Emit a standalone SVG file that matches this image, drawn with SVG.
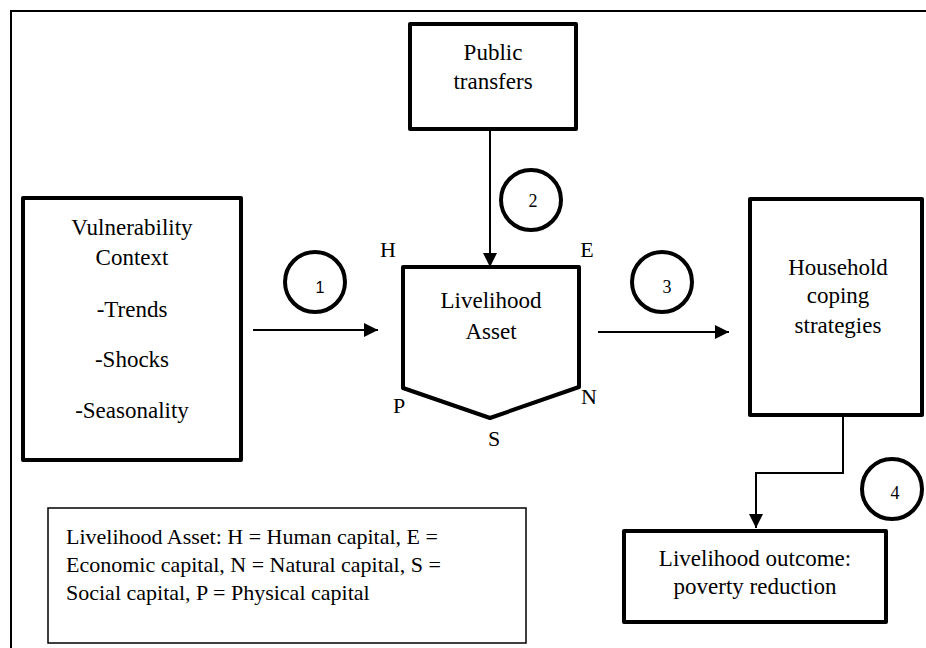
<svg xmlns="http://www.w3.org/2000/svg" width="926" height="648" viewBox="0 0 926 648">
<defs>
<marker id="ah" viewBox="0 0 14 14" refX="14" refY="7" markerWidth="14" markerHeight="14" markerUnits="userSpaceOnUse" orient="auto">
<path d="M0,0 L14,7 L0,14 Z" fill="#000"/>
</marker>
</defs>
<style>
.box{fill:#fff;stroke:#000;stroke-width:4;stroke-linejoin:round}
.t{font-family:'Liberation Serif','Times New Roman',Tinos,'DejaVu Serif',serif;font-size:23px;fill:#000;text-anchor:middle}
.lbl{font-family:'Liberation Serif','Times New Roman',Tinos,'DejaVu Serif',serif;font-size:22px;fill:#000;text-anchor:middle}
.num{font-family:'Liberation Serif','Times New Roman',Tinos,'DejaVu Serif',serif;font-size:18px;fill:#000;text-anchor:middle}
.leg{font-family:'Liberation Serif','Times New Roman',Tinos,'DejaVu Serif',serif;font-size:22px;fill:#000}
.circ{fill:#fff;stroke:#000;stroke-width:4}
.con{fill:none;stroke:#000;stroke-width:2}
</style>
<rect x="0" y="0" width="926" height="648" fill="#fff"/>
<rect x="11" y="11" width="930" height="650" fill="none" stroke="#000" stroke-width="2"/>

<g id="connectors">
<line class="con" x1="490" y1="131" x2="490" y2="267" marker-end="url(#ah)"/>
<line class="con" x1="253" y1="330" x2="378" y2="330" marker-end="url(#ah)"/>
<line class="con" x1="598" y1="332" x2="729" y2="332" marker-end="url(#ah)"/>
<polyline class="con" points="843,417 843,473 756,473 756,528" marker-end="url(#ah)"/>
</g>

<g id="public-transfers">
<rect class="box" x="410" y="24" width="166" height="105"/>
<text class="t" x="493" y="60">Public</text>
<text class="t" x="493" y="89">transfers</text>
</g>

<g id="vulnerability-context">
<rect class="box" x="23" y="198" width="218" height="262"/>
<text class="t" x="132" y="235">Vulnerability</text>
<text class="t" x="132" y="265">Context</text>
<text class="t" x="132" y="317">-Trends</text>
<text class="t" x="132" y="367">-Shocks</text>
<text class="t" x="132" y="418">-Seasonality</text>
</g>

<g id="livelihood-asset">
<path class="box" d="M403,267 L579,267 L579,387 L490,418 L403,388 Z"/>
<text class="t" x="491" y="308">Livelihood</text>
<text class="t" x="491" y="339">Asset</text>
<text class="lbl" x="388" y="257">H</text>
<text class="lbl" x="587" y="257">E</text>
<text class="lbl" x="399" y="413">P</text>
<text class="lbl" x="589" y="404">N</text>
<text class="lbl" x="494" y="446">S</text>
</g>

<g id="household-coping">
<rect class="box" x="750" y="199" width="172" height="216"/>
<text class="t" x="838" y="275">Household</text>
<text class="t" x="838" y="303">coping</text>
<text class="t" x="838" y="333">strategies</text>
</g>

<g id="livelihood-outcome">
<rect class="box" x="624" y="531" width="262" height="91"/>
<text class="t" x="755" y="566">Livelihood outcome:</text>
<text class="t" x="755" y="594">poverty reduction</text>
</g>

<g id="legend">
<rect x="48" y="508" width="478" height="135" fill="#fff" stroke="#000" stroke-width="1.5"/>
<text class="leg">
<tspan x="66" y="544">Livelihood Asset: H = Human capital, E =</tspan>
<tspan x="66" y="572">Economic capital, N = Natural capital, S =</tspan>
<tspan x="66" y="600">Social capital, P = Physical capital</tspan>
</text>
</g>

<g id="step-1">
<circle class="circ" cx="315" cy="282" r="30"/>
<text x="320" y="293" font-family="'Liberation Sans', Arial, sans-serif" font-size="16" text-anchor="middle">1</text>
</g>
<g id="step-2">
<circle class="circ" cx="531" cy="200" r="30"/>
<text class="num" x="533" y="207">2</text>
</g>
<g id="step-3">
<circle class="circ" cx="662" cy="282" r="30"/>
<text class="num" x="667" y="293">3</text>
</g>
<g id="step-4">
<circle class="circ" cx="892" cy="489" r="30"/>
<text class="num" x="895" y="499">4</text>
</g>
</svg>
